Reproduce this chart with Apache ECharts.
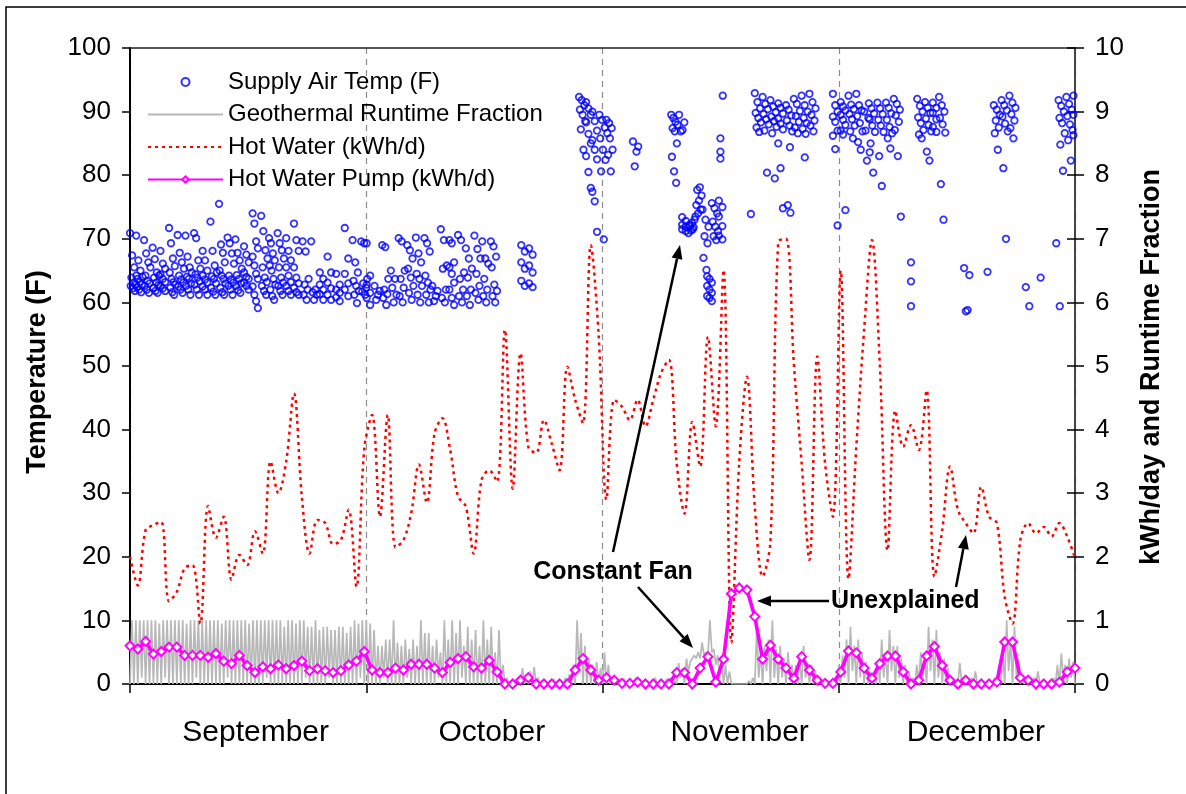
<!DOCTYPE html>
<html><head><meta charset="utf-8">
<script src="https://cdn.jsdelivr.net/npm/echarts@6/dist/echarts.min.js"></script>
<style>html,body{margin:0;padding:0;background:#fff}#c{width:1186px;height:794px}</style>
</head><body><div id="c"></div>
<script>
// ---------------- DATA ----------------
const months = ['September', 'October', 'November', 'December'];
const leftTicksMax = 100;   // Temperature (F)
const rightTicksMax = 10;   // kWh/day and Runtime Fraction
const dayCount = 121;       // days after Sep 1 covered by the axis

// Hot water pump, kWh/d, one value per day (day 0 .. 121)
const pumpKWh = [
  0.60,0.55,0.67,0.47,0.51,0.58,0.58,0.45,0.45,0.45,0.42,0.48,0.36,0.32,0.45,0.29,0.18,0.27,0.24,0.30,0.24,0.29,0.36,0.21,0.24,0.21,0.18,0.21,0.30,0.36,0.51,
  0.22,0.18,0.18,0.25,0.22,0.31,0.31,0.31,0.25,0.18,0.34,0.40,0.43,0.27,0.25,0.37,0.19,0,0,0.06,0.10,0,0,0,0,0,0.22,0.40,0.22,0.06,0.10,
  0.06,0.01,0.01,0.03,0,0,0,0,0.18,0.18,0,0.25,0.43,0.03,0.39,1.42,1.51,1.48,1.06,0.39,0.61,0.39,0.25,0.09,0.43,0.22,0.06,0.01,0.01,0.19,
  0.52,0.49,0.25,0.09,0.32,0.44,0.44,0.19,0,0.06,0.44,0.59,0.29,0.06,0,0.06,0,0,0,0.03,0.66,0.66,0.10,0.06,0,0,0,0.03,0.19,0.25
];

// Hot water, kWh/d, one value per day (day 0 .. 121)
const hotWaterKWh = [
  2.0,1.55,2.42,2.5,2.55,1.3,1.45,1.82,1.87,0.95,2.8,2.3,2.63,1.64,2.03,1.87,2.4,2.05,3.5,3.0,3.5,4.57,2.95,2.05,2.58,2.53,2.2,2.26,2.74,1.53,3.7,
  4.23,2.63,4.23,2.15,2.26,2.68,3.45,2.85,3.94,4.18,3.68,2.95,2.79,2.05,3.2,3.36,3.18,5.57,3.07,5.2,3.73,3.63,4.15,3.78,3.36,4.99,4.47,4.1,6.9,5.5,2.9,
  4.47,4.36,4.15,4.47,4.05,4.47,4.89,5.1,3.47,2.68,4.12,3.42,5.46,4.05,6.51,0.65,3.47,4.83,2.79,1.69,2.24,6.95,7.0,5.04,3.47,1.95,5.15,3.47,2.63,6.5,
  1.65,3.73,5.57,6.98,5.04,2.1,4.3,3.73,4.07,3.68,4.62,1.69,2.42,3.42,2.74,2.53,2.37,3.1,2.63,2.53,1.37,0.95,2.26,2.53,2.37,2.47,2.32,2.53,2.32,1.98
];

// Geothermal runtime fraction, four 6-hour samples per day (day 0 .. 121)
const runtimeSamples = [
  [0,1,0,1],[0,1,0.1,1],[0,1,0,1],[0,1,0,0.95],[0,1,0.1,1],[0,1,0,1],[0,1,0,1],[0,0.95,0,1],[0,1,0.1,1],[0,1,0,1],
  [0,1,0,1],[0,1,0,0.95],[0,1,0.1,1],[0,1,0,1],[0,1,0,1],[0,0.95,0,1],[0,1,0,1],[0,1,0.1,1],[0,1,0,1],[0,1,0,0.9],
  [0,1,0,1],[0,0.95,0,1],[0,1,0.1,0.9],[0,0.9,0,1],[0,0.85,0,0.9],[0,0.9,0.1,0.85],[0,0.85,0,0.9],[0,0.9,0,0.8],[0,0.9,0,1],[0,0.95,0.1,1],
  [0,1,0,0.95],
  [0,0.85,0,0.6],[0,0.6,0.1,0.7],[0,0.7,0,1.0],[0,0.65,0,0.6],[0,0.7,0.1,0.55],[0,0.7,0,0.6],[0,1.0,0,0.8],[0,0.8,0,0.6],[0,0.7,0.1,0.5],[0,1.0,0,0.7],
  [0,1.0,0,0.8],[0,1.0,0.1,0.6],[0,0.9,0,0.7],[0,0.85,0,0.6],[0,1.0,0,0.7],[0,0.9,0,0.5],[0,0.85,0,0.3],[0,0.1,0,0.05],[0,0.05,0,0.1],[0,0.25,0,0.15],
  [0,0.2,0,0.27],[0,0.1,0,0.05],[0,0.05,0,0.05],[0,0.08,0,0.05],[0,0.05,0,0.1],[0,0.15,0,0.3],[0,1.0,0.2,0.8],[0,0.6,0,0.4],[0,0.3,0,0.35],[0,0.25,0,0.5],
  [0,0.3,0,0.1],
  [0,0.05,0,0.08],[0,0.08,0,0.05],[0,0.05,0,0.1],[0,0.08,0,0.05],[0,0.05,0,0.05],[0,0.1,0,0.05],[0,0.05,0,0.08],[0,0.1,0,0.05],[0,0.33,0.1,0.25],[0,0.4,0.2,0.35],
  [0.35,0.45,0.4,0.5],[0.4,0.65,0.45,0.5],[0.45,1.0,0.5,0.55],[0.3,0.45,0.1,0.35],[0,0.3,0,0.2],[0,0,0,0],[0,0,0,0],[0,0.05,0,0.1],[0,0.85,0.1,0.5],[0,0.6,0.2,0.7],
  [0,1.0,0.1,0.55],[0,0.6,0.1,0.4],[0,0.5,0.1,0.3],[0,0.3,0,0.4],[0,0.6,0.1,0.3],[0,0.3,0,0.2],[0,0.1,0,0.05],[0,0,0,0],[0,0.1,0,0.3],[0,0.45,0.1,0.7],
  [0,0.9,0.2,0.6],[0,0.7,0.1,0.5],[0,0.35,0,0.2],[0,0.15,0,0.35],[0,0.7,0.1,0.5],[0,0.85,0.2,0.6],[0,0.6,0.1,0.4],[0,0.3,0,0.2],[0,0.1,0,0.3],[0,0.5,0.1,0.4],
  [0,0.9,0.2,0.7],[0,0.85,0.1,0.5],[0,0.4,0,0.25],[0,0.1,0,0.05],[0,0.33,0,0.1],[0,0.05,0,0.1],[0,0.2,0,0.05],[0,0.05,0,0.05],[0,0.05,0,0.1],[0,0.3,0,0.5],
  [0,1.0,0.2,0.7],[0,0.9,0.1,0.4],[0,0.1,0,0.05],[0,0.05,0,0.1],[0,0.2,0,0.05],[0,0.05,0,0.05],[0,0.1,0,0.3],[0,0.48,0.1,0.3],[0,0.4,0.1,0.35],[0,0.3,0,0.2]
];

// Supply air temperature (F): [day the readings start, readings during that day]
const supplyAirGroups = [
  [0.0,[70.9,67.4,65.5,64.2,63.9,63.1,62.8,62.6,62.2,61.8]],
  [0.8,[70.5,66.6,65.0,64.0,63.7,63.2,62.8,62.4,62.0,61.6]],
  [1.8,[69.8,67.7,66.3,65.5,64.2,63.4,63.0,62.6,62.0,61.5]],
  [2.9,[68.6,66.8,64.7,64.2,63.9,63.1,62.7,62.3,61.8,61.5]],
  [3.9,[68.1,66.1,65.3,64.4,63.7,63.2,62.6,62.2,61.8]],
  [5.0,[71.7,69.3,66.9,65.7,64.7,63.7,63.2,62.8,62.3,61.6,61.2]],
  [6.1,[70.6,67.8,66.3,65.3,64.2,63.6,63.1,62.5,62.0,61.5]],
  [7.1,[70.5,67.2,65.5,64.7,64.0,63.7,63.0,62.6,62.0,61.2]],
  [8.2,[70.9,70.1,66.6,65.3,64.4,63.9,63.3,62.8,62.0,61.2]],
  [9.3,[68.1,66.6,65.0,64.2,63.6,63.1,62.5,62.0,61.2]],
  [10.3,[72.7,68.1,65.8,64.7,64.1,63.7,63.0,62.3,61.7,61.2]],
  [11.4,[75.5,69.1,67.8,66.3,65.0,64.2,63.7,63.0,62.3,61.6,61.2]],
  [12.5,[70.2,69.3,67.7,66.1,64.2,63.6,63.1,62.6,62.0,61.2]],
  [13.5,[69.9,67.8,66.6,65.3,64.3,63.7,63.0,62.6,61.9,61.5]],
  [14.6,[68.8,67.5,66.3,64.7,64.0,63.7,63.1,62.6,62.0]],
  [15.7,[74.0,72.4,69.6,68.5,67.2,65.8,64.5,63.7,62.5,61.2,60.2,59.1]],
  [16.8,[73.6,71.2,68.2,66.9,65.5,63.9,63.2,62.6,61.8,61.2]],
  [17.8,[70.1,69.3,67.7,66.6,65.8,65.0,63.7,62.8,62.0,61.0,60.4]],
  [18.9,[70.9,69.3,68.2,66.9,65.5,63.9,63.1,62.6,61.8,61.2]],
  [20.0,[70.1,68.1,66.6,65.5,64.2,63.2,62.6,61.8,61.2]],
  [21.0,[72.4,69.8,68.1,65.5,63.9,63.0,62.3,61.6,61.2]],
  [22.1,[69.6,68.0,63.7,62.8,62.0,61.2,60.4]],
  [23.2,[69.6,62.0,61.6,61.2,60.4]],
  [24.3,[64.7,63.7,62.8,62.0,61.3,60.4]],
  [25.3,[67.2,64.7,63.1,62.2,61.2,60.4]],
  [26.4,[64.5,62.8,62.0,61.5,60.8,60.2]],
  [27.5,[71.7,66.9,64.5,63.0,62.0,61.0]],
  [28.5,[69.8,66.3,64.7,63.4,62.6,61.8,61.2,59.9]],
  [29.6,[69.6,69.3,63.7,63.0,62.3,61.7,61.2]],
  [30.3,[69.3,64.2,62.8,61.5,60.7,59.6]],
  [31.3,[62.6,61.8,61.2,60.4]],
  [32.3,[69.0,68.7,63.7,62.0,61.3,60.7,59.6]],
  [33.4,[65.0,63.7,62.3,61.2,60.0]],
  [34.4,[70.1,69.6,65.0,63.7,62.3,61.0,60.0]],
  [35.5,[69.0,68.2,66.9,65.3,63.9,62.6,61.5,60.4]],
  [36.6,[70.2,67.7,66.3,64.5,63.7,62.6,61.2,60.0]],
  [37.7,[70.1,69.3,68.0,64.2,63.1,62.0,61.2,60.0]],
  [38.7,[62.6,61.8,61.0,60.2]],
  [39.8,[71.5,69.8,65.8,65.3,62.0,60.7,60.0]],
  [40.9,[69.8,69.3,66.3,65.5,64.5,63.1,62.0,60.7,59.6]],
  [42.0,[70.6,69.8,64.7,63.7,62.0,61.0,60.0]],
  [43.0,[68.5,66.9,65.3,63.9,62.0,61.0,59.6]],
  [44.1,[70.5,68.4,66.9,64.5,62.6,61.5,60.4]],
  [45.1,[69.6,66.9,66.1,63.7,62.0,61.0,60.0]],
  [46.2,[69.6,68.8,67.2,65.5,62.8,61.8,61.0,60.0]],
  [50.1,[69.0,68.0,66.3,65.3,63.4,62.6]],
  [51.1,[68.5,67.5,65.8,64.7,63.0,62.4]],
  [57.5,[92.3,91.8,91.0,90.3,89.5,88.5,87.2,84.0]],
  [58.4,[91.5,90.5,89.5,88.3,86.5,85.0,83.0,80.5,78.0]],
  [59.2,[90.0,88.5,87.0,85.5,84.0,82.5,77.4,75.9,71.1]],
  [60.1,[89.5,88.7,87.5,85.8,84.0,82.4,80.6,69.9]],
  [61.0,[88.7,88.2,87.4,86.6,85.8,84.0,83.2,80.6]],
  [64.4,[85.3,84.5,83.7,81.4]],
  [69.3,[89.5,89.0,88.4,87.9,87.4,86.9,85.0,82.9,80.6,78.8]],
  [70.3,[89.5,88.3,87.1,86.9]],
  [70.7,[73.4,72.8,72.2,71.9,71.5,71.2]],
  [71.5,[70.9,71.3,71.8,72.2,72.5,73.0,72.0,71.5]],
  [72.4,[73.5,74.0,74.6,75.3,76.0,76.8,77.7,78.1]],
  [73.3,[74.6,73.0,71.9,70.4,69.3,67.0,65.1]],
  [73.9,[64.1,63.7,63.1,62.6,62.0,61.5,61.0,60.7,60.2]],
  [74.5,[75.6,74.8,74.0,72.7,71.9,71.2,70.4,69.8]],
  [75.4,[76.0,75.0,73.5,72.0,70.5,69.9]],
  [75.6,[85.8,83.7,82.6]],
  [75.9,[92.5]],
  [79.5,[73.9]],
  [80.0,[92.9,91.5,90.5,89.8,89.0,88.3,87.5,86.8]],
  [81.0,[92.3,91.2,90.4,89.6,88.8,88.0,87.0,80.4]],
  [82.0,[91.8,90.8,89.9,89.2,88.5,87.6,86.6,79.5]],
  [83.0,[91.3,90.6,89.7,88.9,88.1,87.2,85.0,81.1,74.8]],
  [84.0,[91.0,90.3,89.4,88.6,87.8,86.9,75.3,74.1]],
  [84.5,[84.4]],
  [85.0,[92.0,91.2,90.1,89.3,88.4,87.5,86.6]],
  [86.0,[92.5,91.0,90.0,89.0,88.2,87.3,86.5]],
  [86.4,[82.8]],
  [87.0,[92.8,91.5,90.5,89.5,88.6,87.8,86.9]],
  [90.0,[92.8,91.0,90.0,89.2,88.4,87.0,86.2,84.1,72.1]],
  [91.0,[91.5,90.8,90.2,89.5,88.7,87.9,87.0,86.4,74.5]],
  [92.0,[92.5,91.1,90.4,89.6,88.8,87.8,86.9,85.8]],
  [93.0,[92.8,91.0,90.2,89.3,88.2,86.9,85.2,84.0]],
  [94.0,[90.0,89.0,87.0,83.6,82.3]],
  [94.6,[91.3,90.5,89.7,88.8,87.8,86.8,85.0,80.4]],
  [95.7,[91.4,90.5,89.6,88.7,87.8,86.8,83.0,78.3]],
  [96.8,[91.4,90.6,89.7,88.7,87.6,86.6,85.8,84.2]],
  [97.8,[92.0,91.2,90.3,89.4,88.4,87.1,83.0]],
  [98.7,[73.5]],
  [100.0,[66.3,63.3,59.4]],
  [100.8,[92.0,90.9,90.0,89.1,88.2,87.1,86.4,85.8]],
  [101.8,[91.5,90.6,89.8,88.9,87.9,86.9,83.7,82.3]],
  [102.8,[91.4,90.6,89.8,88.8,87.6,86.8]],
  [103.6,[92.3,91.0,90.0,89.0,88.0,86.7,78.6,73.0]],
  [106.8,[65.4,64.3,58.8,58.6]],
  [109.8,[64.8]],
  [110.6,[91.0,90.3,89.5,88.6,87.5,86.6,84.0]],
  [111.6,[91.8,91.0,90.2,89.2,88.1,86.9,81.1,70.0]],
  [112.6,[92.5,91.4,90.6,89.6,88.6,87.4,85.8]],
  [114.7,[62.4,59.4]],
  [116.6,[63.9]],
  [118.6,[69.3,59.4]],
  [118.9,[91.8,90.9,90.0,89.0,88.2,86.6,84.8,80.7]],
  [119.9,[92.3,91.2,90.3,89.3,88.0,87.1,85.5,82.3]],
  [120.8,[92.5,91.0,89.5,88.2,86.3,83.2]]
];

// ---------------- BUILD ----------------
const FONT = '"Liberation Sans", Arial, sans-serif';

const pumpData = pumpKWh.map((v, d) => [d, v]);
const hotWaterData = hotWaterKWh.map((v, d) => [d, v]);
const runtimeData = [];
runtimeSamples.forEach((s, d) => s.forEach((v, j) => {
  const x = d + j / s.length;
  if (x <= dayCount) runtimeData.push([x, v]);
}));
const supplyData = [];
supplyAirGroups.forEach(([day, temps]) => {
  const n = temps.length;
  temps.forEach((t, i) => {
    const slot = n > 1 ? ((i * 3) % n) / n : 0;
    supplyData.push([day + slot * 0.9, t]);
  });
});

function arrow(x1, y1, x2, y2) {
  const a = Math.atan2(y2 - y1, x2 - x1), L = 14, W = 5.5;
  const bx = x2 - L * Math.cos(a), by = y2 - L * Math.sin(a);
  const px = -Math.sin(a) * W, py = Math.cos(a) * W;
  return [
    { type: 'line', z: 100, shape: { x1: x1, y1: y1, x2: bx, y2: by }, style: { stroke: '#000', lineWidth: 2.5 } },
    { type: 'polygon', z: 100, shape: { points: [[x2, y2], [bx + px, by + py], [bx - px, by - py]] }, style: { fill: '#000' } }
  ];
}

const chart = echarts.init(document.getElementById('c'), null, { renderer: 'canvas' });
chart.setOption({
  animation: false,
  backgroundColor: '#fff',
  grid: { left: 130, right: 111, top: 48, bottom: 110, containLabel: false },
  legend: {
    orient: 'vertical', left: 142, top: 65, itemWidth: 75, itemHeight: 8, itemGap: 8.5,
    textStyle: { fontSize: 24, fontFamily: FONT, color: '#000' },
    data: [
      { name: 'Supply Air Temp (F)' },
      { name: 'Geothermal Runtime Fraction', itemStyle: { opacity: 0 } },
      { name: 'Hot Water (kWh/d)', itemStyle: { opacity: 0 } },
      { name: 'Hot Water Pump (kWh/d)' }
    ]
  },
  xAxis: [
    {
      type: 'category', data: months, position: 'bottom', boundaryGap: true,
      axisLine: { show: true, lineStyle: { color: '#000', width: 2 } },
      axisTick: { show: true, length: 9, interval: 0, lineStyle: { color: '#000', width: 1.5 } },
      axisLabel: {
        interval: 0, margin: 34, color: '#000',
        formatter: (v, i) => (i < 2 ? '{a|' : '{b|') + v + '}',
        rich: {
          a: { fontSize: 30, fontFamily: FONT, color: '#000', padding: [0, 0, 0, 15] },
          b: { fontSize: 30, fontFamily: FONT, color: '#000', padding: [0, 0, 0, 38] }
        }
      },
      splitLine: { show: true, interval: 0, lineStyle: { color: '#8c8c8c', width: 1.2, type: [6, 5] } }
    },
    {
      type: 'value', min: 0, max: dayCount, position: 'top',
      axisLine: { show: true, onZero: false, lineStyle: { color: '#222', width: 1.5 } },
      axisTick: { show: false }, axisLabel: { show: false }, splitLine: { show: false }
    }
  ],
  yAxis: [
    {
      type: 'value', min: 0, max: leftTicksMax, interval: 10, position: 'left',
      axisLine: { show: true, lineStyle: { color: '#000', width: 2 } },
      axisTick: { show: true, length: 8, lineStyle: { color: '#000', width: 1.5 } },
      axisLabel: { fontSize: 26, fontFamily: FONT, color: '#000', margin: 19 },
      splitLine: { show: false }
    },
    {
      type: 'value', min: 0, max: rightTicksMax, interval: 1, position: 'right',
      axisLine: { show: true, lineStyle: { color: '#444', width: 2 } },
      axisTick: { show: true, length: 9, lineStyle: { color: '#000', width: 1.5 } },
      axisLabel: { fontSize: 26, fontFamily: FONT, color: '#000', margin: 20 },
      splitLine: { show: false }
    },
    {
      type: 'value', min: 0, max: rightTicksMax, interval: 1, position: 'right',
      axisLine: { show: false },
      axisTick: { show: true, inside: true, length: 8, lineStyle: { color: '#000', width: 1.5 } },
      axisLabel: { show: false }, splitLine: { show: false }
    }
  ],
  series: [
    {
      name: 'Supply Air Temp (F)', type: 'scatter', xAxisIndex: 1, yAxisIndex: 0,
      symbol: 'circle', symbolSize: 6.5, z: 3,
      itemStyle: { color: 'rgba(255,255,255,0)', borderColor: '#0000ff', borderWidth: 1.8 },
      data: supplyData
    },
    {
      name: 'Geothermal Runtime Fraction', type: 'line', xAxisIndex: 1, yAxisIndex: 1,
      showSymbol: false, symbol: 'none', z: 2,
      lineStyle: { color: '#b8b8b8', width: 1.7 }, itemStyle: { color: '#b8b8b8' },
      data: runtimeData
    },
    {
      name: 'Hot Water (kWh/d)', type: 'line', xAxisIndex: 1, yAxisIndex: 1,
      showSymbol: false, symbol: 'none', smooth: 0.35, z: 4,
      lineStyle: { color: '#ff0000', width: 2.5, type: [3, 4] }, itemStyle: { color: '#ff0000' },
      data: hotWaterData
    },
    {
      name: 'Hot Water Pump (kWh/d)', type: 'line', xAxisIndex: 1, yAxisIndex: 1,
      symbol: 'diamond', symbolSize: 9, showSymbol: true, z: 5,
      lineStyle: { color: '#ff00ff', width: 3.6 },
      itemStyle: { color: '#ffffff', borderColor: '#ff00ff', borderWidth: 2 },
      data: pumpData
    }
  ],
  graphic: [
    { type: 'rect', z: 0, silent: true, shape: { x: 6, y: 7, width: 1200, height: 800 }, style: { fill: 'none', stroke: '#000', lineWidth: 1.5 } },
    { type: 'text', x: 38, y: 372, rotation: Math.PI / 2, style: { text: 'Temperature (F)', fontSize: 27, fontWeight: 'bold', fontFamily: FONT, fill: '#000', align: 'center', verticalAlign: 'middle' } },
    { type: 'text', x: 1152, y: 367, rotation: Math.PI / 2, style: { text: 'kWh/day and Runtime Fraction', fontSize: 27, fontWeight: 'bold', fontFamily: FONT, fill: '#000', align: 'center', verticalAlign: 'middle' } },
    { type: 'text', x: 613, y: 572, z: 100, style: { text: 'Constant Fan', fontSize: 25, fontWeight: 'bold', fontFamily: FONT, fill: '#000', align: 'center', verticalAlign: 'middle' } },
    { type: 'text', x: 831, y: 601, z: 100, style: { text: 'Unexplained', fontSize: 25, fontWeight: 'bold', fontFamily: FONT, fill: '#000', align: 'left', verticalAlign: 'middle' } },
    ...arrow(613, 552, 680, 245),
    ...arrow(638, 587, 693, 648),
    ...arrow(829, 601, 757, 601),
    ...arrow(956, 587, 966, 535)
  ]
});
</script>
</body></html>
